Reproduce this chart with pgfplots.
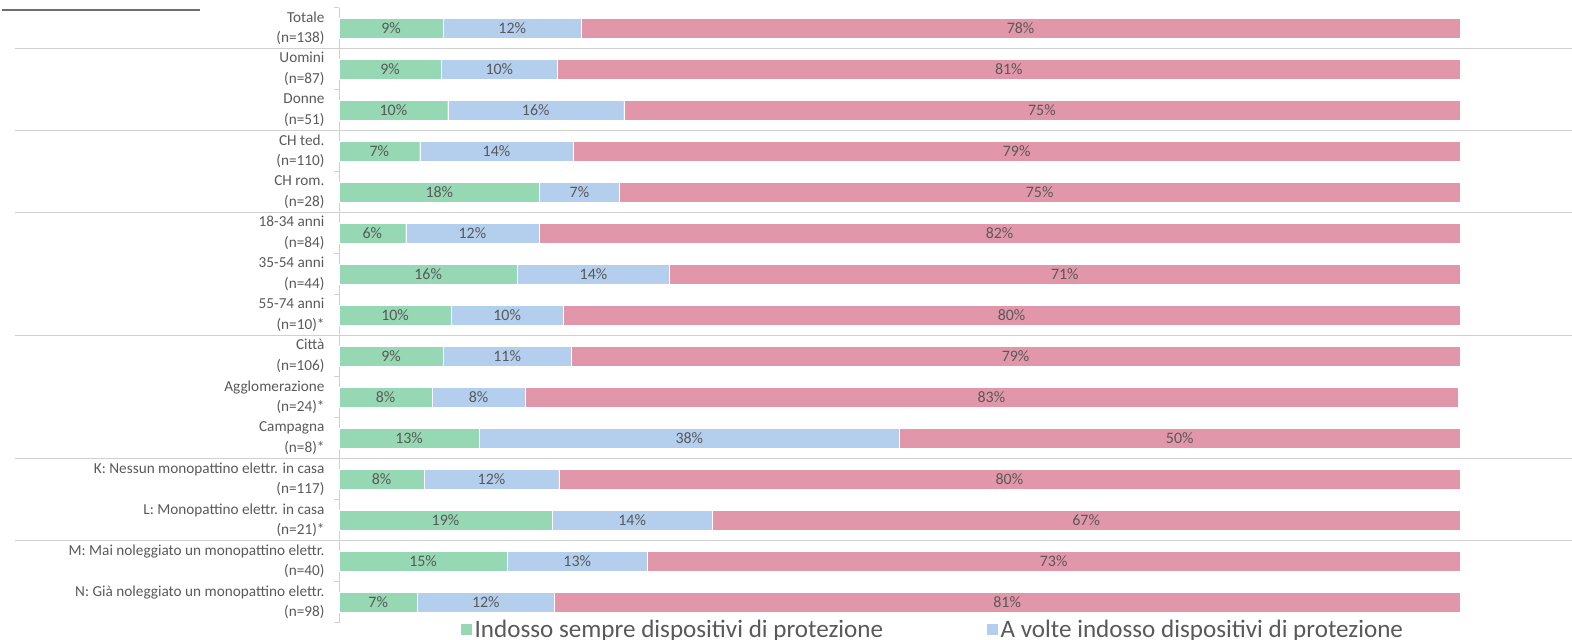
\documentclass[border=0pt]{standalone}
\usepackage{pgfplots}
\usepackage{pgfplotstable}
\pgfplotsset{compat=1.18}
\usepackage{fontspec}
\setmainfont{Carlito}
\definecolor{cgreen}{RGB}{149,216,179}
\definecolor{cblue}{RGB}{180,206,238}
\definecolor{cpink}{RGB}{225,150,169}
\definecolor{tgray}{RGB}{89,89,89}
\definecolor{sgray}{RGB}{208,208,208}
\pgfplotstableread{
idx a b c la lb lc
0 9.3 12.3 78.4 9 12 78
1 9.1 10.4 80.5 9 10 81
2 9.7 15.7 74.6 10 16 75
3 7.2 13.7 79.1 7 14 79
4 17.9 7.1 75.0 18 7 75
5 5.95 11.9 82.15 6 12 82
6 15.9 13.6 70.5 16 14 71
7 10 10 80 10 10 80
8 9.3 11.4 79.3 9 11 79
9 8.3 8.3 83.2 8 8 83
10 12.5 37.5 50 13 38 50
11 7.6 12.0 80.4 8 12 80
12 19.0 14.3 66.7 19 14 67
13 15 12.5 72.5 15 13 73
14 7.0 12.2 80.8 7 12 81
}\data
\begin{document}
\begin{tikzpicture}
\useasboundingbox (0,0) rectangle (1572bp,640bp);
\draw[line width=1.5bp, color={rgb,255:red,110;green,110;blue,110}] (2bp,630bp) -- (200bp,630bp);
\begin{axis}[
  at={(339bp,17.5bp)}, anchor=south west,
  scale only axis, width=1121bp, height=615bp,
  xbar stacked, bar width=20bp, bar shift=0pt,
  xmin=0, xmax=100, ymin=-0.5, ymax=14.5, y dir=reverse,
  axis x line=none,
  axis y line*=left,
  y axis line style={sgray, line width=0.8bp},
  ytick={0,...,14},
  yticklabels={{Totale\\(n=138)},{Uomini\\(n=87)},{Donne\\(n=51)},{CH ted.\\(n=110)},{CH rom.\\(n=28)},{18-34 anni\\(n=84)},{35-54 anni\\(n=44)},{55-74 anni\\(n=10)*},{Città\\(n=106)},{Agglomerazione\\(n=24)*},{Campagna\\(n=8)*},{K: Nessun monopattino elettr. in casa\\(n=117)},{L: Monopattino elettr. in casa\\(n=21)*},{M: Mai noleggiato un monopattino elettr.\\(n=40)},{N: Già noleggiato un monopattino elettr.\\(n=98)}},
  major tick length=0pt,
  minor ytick={-0.5,0.5,...,14.5},
  minor tick length=5bp, tick align=outside,
  minor tick style={sgray, line width=0.8bp},
  yticklabel style={align=right, font=\fontsize{15.3}{20.5}\selectfont, text=tgray, xshift=-11bp},
  point meta=explicit symbolic,
  nodes near coords={\pgfplotspointmeta\%},
  nodes near coords style={font=\fontsize{16}{18}\selectfont, text=tgray, anchor=center},
  clip=false,
  legend columns=2,
  legend style={draw=none, fill=none, at={(0.108,-0.011)}, anchor=west, font=\fontsize{25.2}{27}\selectfont, text=tgray,
    /tikz/every even column/.append style={column sep=101bp}, inner sep=0pt},
  legend image code/.code={\fill[#1] (0bp,-6bp) rectangle (12bp,6bp);},
]
\addplot[fill=cgreen, draw=white, line width=0.4bp]
  table[x=a, y=idx, meta=la] {\data};
\addplot[fill=cblue, draw=white, line width=0.4bp]
  table[x=b, y=idx, meta=lb] {\data};
\addplot[fill=cpink, draw=white, line width=0.4bp]
  table[x=c, y=idx, meta=lc] {\data};
\legend{Indosso sempre dispositivi di protezione, A volte indosso dispositivi di protezione}
\draw[sgray, line width=1.2bp] ([xshift=-324bp]axis cs:0,0.5) -- ([xshift=112bp]axis cs:100,0.5);
\draw[sgray, line width=1.2bp] ([xshift=-324bp]axis cs:0,2.5) -- ([xshift=112bp]axis cs:100,2.5);
\draw[sgray, line width=1.2bp] ([xshift=-324bp]axis cs:0,4.5) -- ([xshift=112bp]axis cs:100,4.5);
\draw[sgray, line width=1.2bp] ([xshift=-324bp]axis cs:0,7.5) -- ([xshift=112bp]axis cs:100,7.5);
\draw[sgray, line width=1.2bp] ([xshift=-324bp]axis cs:0,10.5) -- ([xshift=112bp]axis cs:100,10.5);
\draw[sgray, line width=1.2bp] ([xshift=-324bp]axis cs:0,12.5) -- ([xshift=112bp]axis cs:100,12.5);
\end{axis}
\end{tikzpicture}
\end{document}
